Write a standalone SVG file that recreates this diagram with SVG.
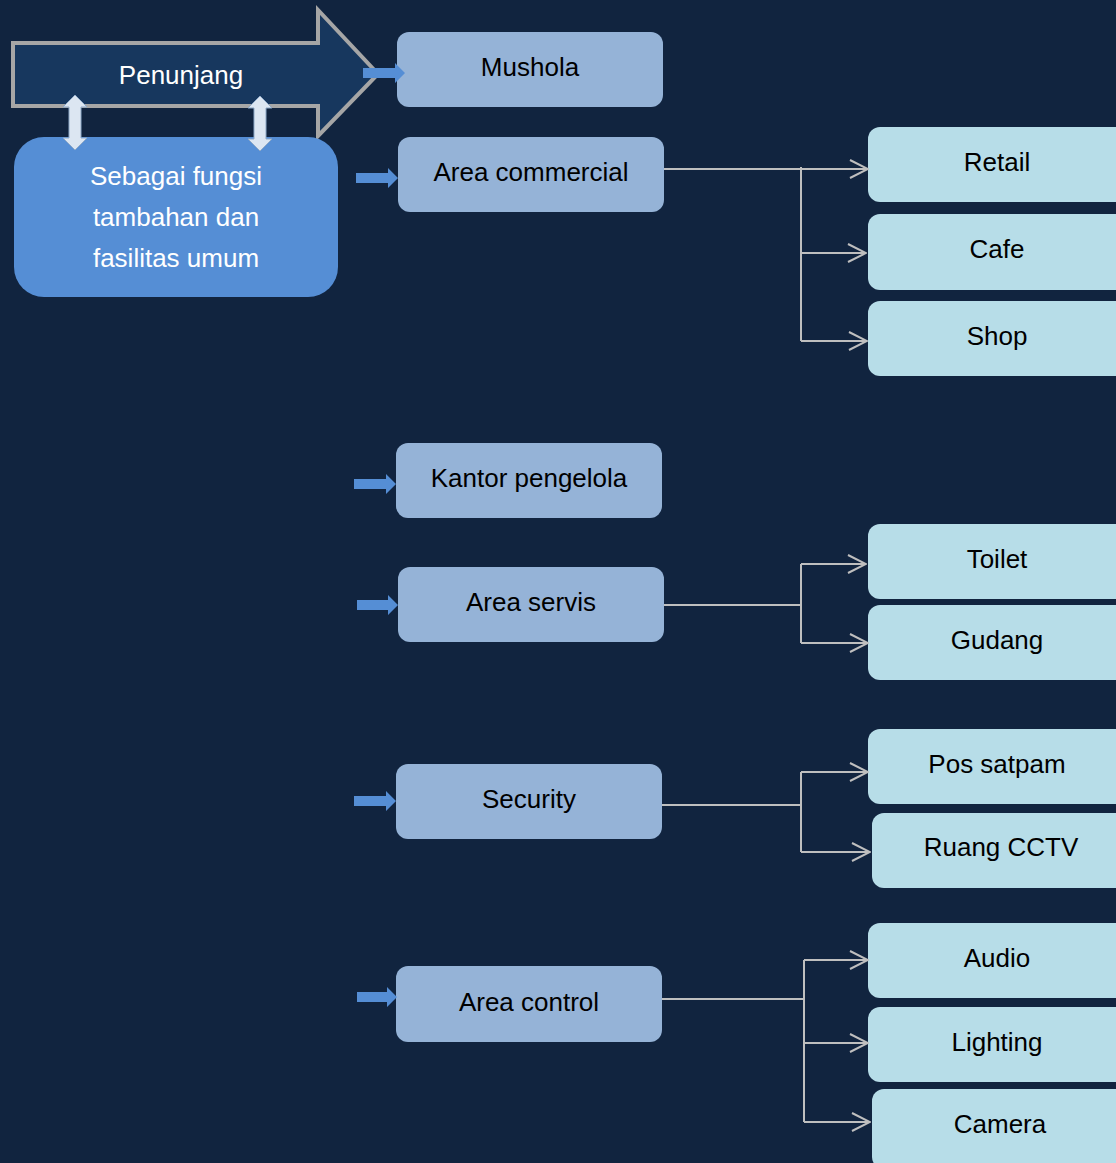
<svg xmlns="http://www.w3.org/2000/svg" width="1116" height="1163" viewBox="0 0 1116 1163">
<style>
text{font-family:"Liberation Sans",Arial,sans-serif;font-size:26px;text-anchor:middle}
.mid{fill:#95b3d7}
.leaf{fill:#b7dde8}
.dark{fill:#000}
.conn{fill:none;stroke:#bfbfbf;stroke-width:2}
.blue{fill:#558ed5}
.dbl{fill:#dce6f2;stroke:#8ea9c8;stroke-width:1}
</style>
<defs>
<marker id="open" viewBox="0 0 20 20" refX="19" refY="10" markerWidth="20" markerHeight="20" markerUnits="userSpaceOnUse" orient="auto">
<path d="M1,1 L19,10 L1,19" fill="none" stroke="#bfbfbf" stroke-width="2"/>
</marker>
</defs>
<rect width="1116" height="1163" fill="#11243f"/>

<g id="penunjang">
<polygon points="13,43 318,43 318,10 378,74 318,136 318,106 13,106" fill="#17375e" stroke="#a6a6a6" stroke-width="4"/>
<text x="181" y="84" fill="#fff">Penunjang</text>
</g>
<g id="sebagai">
<rect x="14" y="137" width="324" height="160" rx="30" fill="#558ed5"/>
<text x="176" y="185" fill="#fff">Sebagai fungsi</text>
<text x="176" y="226" fill="#fff">tambahan dan</text>
<text x="176" y="267" fill="#fff">fasilitas umum</text>
</g>
<g id="double-arrows">
<polygon class="dbl" points="75,95 87,107 81,107 81,138 87,138 75,150 63,138 69,138 69,107 63,107"/>
<polygon class="dbl" points="260,96 272,108 266,108 266,139 272,139 260,151 248,139 254,139 254,108 248,108"/>
</g>

<g id="mushola">
<rect class="mid" x="397" y="32" width="266" height="75" rx="12"/>
<text class="dark" x="530" y="76">Mushola</text>
</g>
<g id="area-commercial">
<rect class="mid" x="398" y="137" width="266" height="75" rx="12"/>
<text class="dark" x="531" y="181">Area commercial</text>
</g>
<g id="kantor-pengelola">
<rect class="mid" x="396" y="443" width="266" height="75" rx="12"/>
<text class="dark" x="529" y="487">Kantor pengelola</text>
</g>
<g id="area-servis">
<rect class="mid" x="398" y="567" width="266" height="75" rx="12"/>
<text class="dark" x="531" y="611">Area servis</text>
</g>
<g id="security">
<rect class="mid" x="396" y="764" width="266" height="75" rx="12"/>
<text class="dark" x="529" y="808">Security</text>
</g>
<g id="area-control">
<rect class="mid" x="396" y="966" width="266" height="76" rx="12"/>
<text class="dark" x="529" y="1011">Area control</text>
</g>

<g id="retail"><rect class="leaf" x="868" y="127" width="270" height="75" rx="12"/><text class="dark" x="997" y="171">Retail</text></g>
<g id="cafe"><rect class="leaf" x="868" y="214" width="270" height="76" rx="12"/><text class="dark" x="997" y="258">Cafe</text></g>
<g id="shop"><rect class="leaf" x="868" y="301" width="270" height="75" rx="12"/><text class="dark" x="997" y="345">Shop</text></g>
<g id="toilet"><rect class="leaf" x="868" y="524" width="270" height="75" rx="12"/><text class="dark" x="997" y="568">Toilet</text></g>
<g id="gudang"><rect class="leaf" x="868" y="605" width="270" height="75" rx="12"/><text class="dark" x="997" y="649">Gudang</text></g>
<g id="pos-satpam"><rect class="leaf" x="868" y="729" width="270" height="75" rx="12"/><text class="dark" x="997" y="773">Pos satpam</text></g>
<g id="ruang-cctv"><rect class="leaf" x="872" y="813" width="270" height="75" rx="12"/><text class="dark" x="1001" y="856">Ruang CCTV</text></g>
<g id="audio"><rect class="leaf" x="868" y="923" width="270" height="75" rx="12"/><text class="dark" x="997" y="967">Audio</text></g>
<g id="lighting"><rect class="leaf" x="868" y="1007" width="270" height="75" rx="12"/><text class="dark" x="997" y="1051">Lighting</text></g>
<g id="camera"><rect class="leaf" x="872" y="1089" width="270" height="80" rx="12"/><text class="dark" x="1000" y="1133">Camera</text></g>

<g id="connectors">
<polygon class="blue" points="363,68 395,68 395,63 405,73 395,83 395,78 363,78"/>
<polygon class="blue" points="356,173 388,173 388,168 398,178 388,188 388,183 356,183"/>
<polygon class="blue" points="354,479 386,479 386,474 396,484 386,494 386,489 354,489"/>
<polygon class="blue" points="357,600 388,600 388,595 398,605 388,615 388,610 357,610"/>
<polygon class="blue" points="354,796 386,796 386,791 396,801 386,811 386,806 354,806"/>
<polygon class="blue" points="357,992 387,992 387,987 397,997 387,1007 387,1002 357,1002"/>

<path class="conn" d="M664,169 H801 M801,167 V341"/>
<path class="conn" d="M801,169 H868" marker-end="url(#open)"/>
<path class="conn" d="M801,253 H866" marker-end="url(#open)"/>
<path class="conn" d="M801,341 H867" marker-end="url(#open)"/>

<path class="conn" d="M664,605 H801 M801,564 V643"/>
<path class="conn" d="M801,564 H866" marker-end="url(#open)"/>
<path class="conn" d="M801,643 H868" marker-end="url(#open)"/>

<path class="conn" d="M662,805 H801 M801,772 V852"/>
<path class="conn" d="M801,772 H868" marker-end="url(#open)"/>
<path class="conn" d="M801,852 H870" marker-end="url(#open)"/>

<path class="conn" d="M662,999 H804 M804,960 V1122"/>
<path class="conn" d="M804,960 H868" marker-end="url(#open)"/>
<path class="conn" d="M804,1043 H868" marker-end="url(#open)"/>
<path class="conn" d="M804,1122 H870" marker-end="url(#open)"/>
</g>
</svg>
